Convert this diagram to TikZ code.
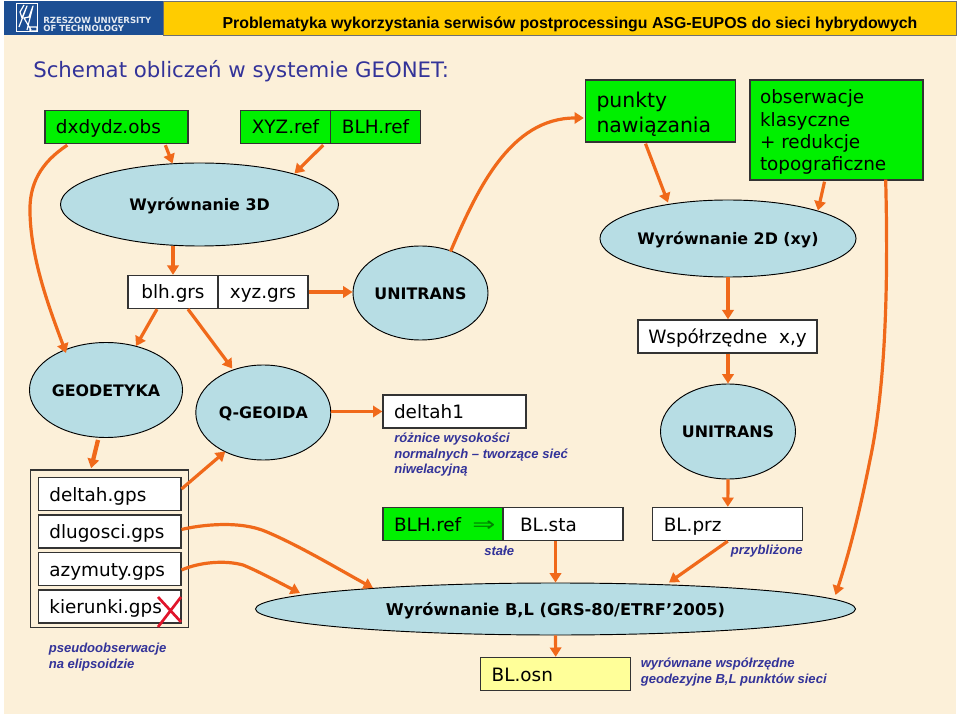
\documentclass[tikz,border=0pt]{standalone}
\usepackage{fontspec}
\setmainfont{DejaVu Sans}
\newfontfamily\arialf{Liberation Sans}
\usetikzlibrary{shapes.geometric,calc,arrows.meta}
\definecolor{cream}{HTML}{FCF0D9}
\definecolor{gold}{HTML}{FFCC00}
\definecolor{ublue}{HTML}{1C4E93}
\definecolor{grn}{HTML}{00F000}
\definecolor{lblue}{HTML}{B7DDE4}
\definecolor{ylw}{HTML}{FFFF99}
\definecolor{ink}{HTML}{333399}
\definecolor{orng}{HTML}{F0691A}
\definecolor{edge}{HTML}{333333}
\definecolor{xred}{HTML}{E0142A}
\newcommand\lbl[3]{\makebox[\dimexpr#1pt*3/4\relax][l]{\hspace{\dimexpr#2pt*3/4\relax}#3}}
\tikzset{
  sz/.style 2 args={minimum width=#1*0.75pt,minimum height=#2*0.75pt},
  bx/.style={draw=edge,line width=1pt,inner sep=0pt,font=\fontsize{13.8pt}{16pt}\selectfont,text height=12pt,text depth=1.5pt,fill=white},
  gbx/.style={bx,fill=grn},
  elp/.style={ellipse,draw=black,line width=0.7pt,fill=lblue,inner sep=0pt,font=\bfseries\fontsize{11.9pt}{14pt}\selectfont,text height=9.2pt,text depth=0pt},
  note/.style={font=\arialf\bfseries\itshape\fontsize{9.8pt}{11.8pt}\selectfont,text=ink,align=left,inner sep=0pt,anchor=north west},
  arr/.style={draw=orng,line width=2.4pt,-{Triangle[length=7pt,width=8.5pt]}},
}
\begin{document}
\begin{tikzpicture}[x=0.75pt,y=-0.75pt]
\useasboundingbox (0,0) rectangle (960,716);
\fill[white] (0,0) rectangle (960,716);
\fill[cream] (4,35) rectangle (956,714);
% header
\node[draw=edge!70,line width=0.6pt,fill=gold,sz={793}{34},inner sep=0pt] (hdr) at (559.5,18) {};
\node[fill=ublue,sz={159}{34},inner sep=0pt] (logo) at (83.5,18) {};
\node[inner sep=0pt,font=\arialf\bfseries\fontsize{11.9pt}{14pt}\selectfont] (htitle) at (570,24) {Problematyka wykorzystania serwisów postprocessingu ASG-EUPOS do sieci hybrydowych};
\draw[white,line width=0.7pt] (16,3.5) rectangle (37,31.5);
\draw[white,line width=0.9pt,line join=round] (19,27) -- (27,6) -- (22,18) -- (20,12) -- (24,5) (27,30) -- (33,6) -- (29,17) -- (24,18) -- (31,30) (30,27) rectangle (37,31);
\node[inner sep=0pt,align=left,anchor=west,text=white!88!ublue,font=\bfseries\fontsize{6.4pt}{6.5pt}\selectfont] (uni) at (43,24.5) {RZESZOW UNIVERSITY\\OF TECHNOLOGY};
% title
\node[inner sep=0pt,anchor=west,text=ink,font=\fontsize{15.95pt}{18pt}\selectfont] (title) at (33,71) {Schemat obliczeń w systemie GEONET:};
% top boxes
\node[gbx,sz={143}{33}] (dx) at (116.5,127) {\lbl{143}{11}{dxdydz.obs}};
\node[gbx,sz={90}{33}] (xyz) at (285.5,127) {XYZ.ref};
\node[gbx,sz={90}{33}] (blhr) at (375.5,127) {BLH.ref};
\node[gbx,sz={150}{62},font=\fontsize{15.3pt}{19pt}\selectfont,text height=,text depth=,align=left] (pk) at (660.5,111) {\lbl{150}{11}{\rule{0pt}{16pt}punkty}\\\lbl{150}{11}{nawiązania}};
\node[gbx,sz={173}{100},font=\fontsize{13.8pt}{16.6pt}\selectfont,text height=,text depth=,align=left] (ob) at (836.5,130) {\lbl{173}{10}{\rule{0pt}{13.5pt}obserwacje}\\\lbl{173}{10}{klasyczne}\\\lbl{173}{10}{+ redukcje}\\\lbl{173}{10}{topograficzne}};
% ellipses
\node[elp,sz={278}{83}] (w3) at (199.5,204.5) {Wyrównanie 3D};
\node[elp,sz={256}{77}] (w2) at (728,238.5) {Wyrównanie 2D (xy)};
\node[elp,sz={135}{94}] (un1) at (420.5,293) {UNITRANS};
\node[elp,sz={135}{95}] (geo) at (106,390) {GEODETYKA};
\node[elp,sz={135}{95}] (qg) at (263.3,412.5) {Q-GEOIDA};
\node[elp,sz={135}{95}] (un2) at (728,431.5) {UNITRANS};
\node[elp,sz={600}{52},font=\bfseries\fontsize{12.2pt}{14pt}\selectfont] (big) at (555.5,609) {Wyrównanie B,L (GRS-80/ETRF’2005)};
% middle boxes
\node[bx,sz={90}{33}] (blh) at (173,292) {blh.grs};
\node[bx,sz={90}{33}] (xg) at (263,292) {xyz.grs};
\node[bx,sz={179}{33}] (wsp) at (727.5,336.5) {Współrzędne\ \ x,y};
\node[bx,sz={143}{33}] (d1) at (454.5,411.5) {\lbl{143}{11}{deltah1}};
\node[note] (n1) at (394,432.5) {różnice wysokości\\normalnych – tworzące sieć\\niwelacyjną};
% gps group
\node[draw=edge,line width=1.1pt,sz={158}{157.5},inner sep=0pt] (grp) at (109.6,548.7) {};
\node[bx,sz={142.5}{33}] (dg) at (109.6,494) {\lbl{142.5}{11}{deltah.gps}};
\node[bx,sz={142.5}{33}] (dl) at (109.6,531.5) {\lbl{142.5}{11}{dlugosci.gps}};
\node[bx,sz={142.5}{33}] (az) at (109.6,569) {\lbl{142.5}{11}{azymuty.gps}};
\node[bx,sz={142.5}{33}] (ki) at (109.6,606.5) {\lbl{142.5}{11}{kierunki.gps}};
\draw[xred,line width=2pt] (158,597) -- (181,622) (181,597) -- (158,627);
\node[note] (n2) at (48.5,643) {pseudoobserwacje\\na elipsoidzie};
% lower boxes
\node[gbx,sz={120}{33}] (br) at (443,524) {\lbl{120}{11}{BLH.ref \ \makebox[17pt][r]{\textcolor{green!50!black}{\scalebox{1.5}[1.1]{⇒}}}}};
\node[bx,sz={120}{33}] (bs) at (563,524) {\lbl{120}{17}{BL.sta}};
\node[bx,sz={150}{33}] (bp) at (727.8,524) {\lbl{150}{11}{BL.prz}};
\node[note,anchor=west] (n3) at (484,551) {stałe};
\node[note,anchor=west] (n4) at (730.5,551) {przybliżone};
\node[bx,fill=ylw,sz={150}{33}] (bo) at (555.7,674) {\lbl{150}{11}{BL.osn}};
\node[note] (n5) at (640.5,658) {wyrównane współrzędne\\geodezyjne B,L punktów sieci};
% connectors
\draw[arr] ($(dx.south west)+(23,1)$) .. controls (40,163) and (29,185) .. (30,213) .. controls (31,260) and (50,310) .. ($(geo.center)+(-40,-37)$);
\draw[arr] ($(dx.south west)+(121,1)$) -- ($(w3.north)+(-27,1)$);
\draw[arr] ($(xyz.south east)+(-8,1)$) -- ($(w3.center)+(95,-31)$);
\draw[arr] (w3.south -| blh.north) -- (blh.north);
\draw[arr] ($(blh.south)+(-16,0)$) -- ($(geo.north)+(30,4)$);
\draw[arr] ($(blh.south)+(15,0)$) -- ($(qg.north)+(-31,4)$);
\draw[arr] (xg.east) -- (xg.east -| un1.west);
\draw[arr] ($(un1.north)+(30,6)$) .. controls (477,190) and (510,118) .. ($(pk.west)+(-1,7)$);
\draw[arr] ($(pk.south)+(-15,1)$) -- ($(w2.north)+(-60,3)$);
\draw[arr] ($(ob.south)+(-12,1)$) -- ($(w2.center)+(90,-28)$);
\draw[arr] (w2.south) -- (wsp.north -| w2.south);
\draw[arr] (wsp.south -| un2.north) -- (un2.north);
\draw[arr] ($(ob.south east)+(-38,-1)$) .. controls (888,270) and (887,380) .. (870,460) .. controls (860,510) and (850,550) .. ($(big.center)+(280,-14)$);
\draw[arr,line width=3.2pt] ($(geo.south)+(-8,2)$) -- ($(grp.north)+(-18.5,-1)$);
\draw[arr] ($(dg.east)+(0,-5)$) -- ($(qg.center)+(-38,39)$);
\draw[arr] ($(dl.east)+(0,-2)$) .. controls (200,525) and (240,520) .. (267,532) .. controls (300,546) and (340,570) .. ($(big.center)+(-182.5,-21)$);
\draw[arr] ($(az.east)+(0,1)$) .. controls (200,562) and (225,560) .. (243,565) .. controls (258,571) and (280,583) .. ($(big.center)+(-255.5,-16)$);
\draw[arr] (qg.east |- d1.west) -- (d1.west);
\draw[arr] (bs.south -| big.north) -- (big.north);
\draw[arr] (un2.south) -- (bp.north);
\draw[arr] (bp.south) -- ($(big.north)+(113.5,0)$);
\draw[arr] (big.south) -- (bo.north);
\end{tikzpicture}
\end{document}
